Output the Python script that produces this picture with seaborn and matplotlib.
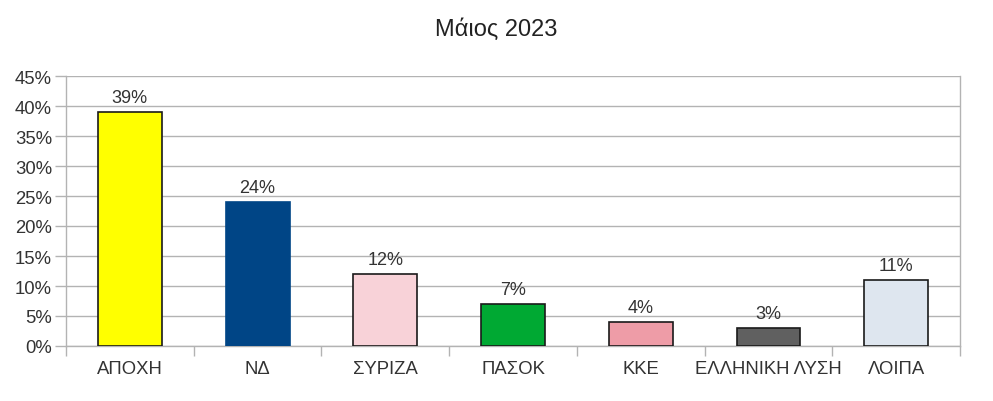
import matplotlib
matplotlib.use("Agg")
import matplotlib.pyplot as plt
import seaborn as sns
import pandas as pd
from matplotlib.ticker import FixedLocator, PercentFormatter

categories = ["ΑΠΟΧΗ", "ΝΔ", "ΣΥΡΙΖΑ", "ΠΑΣΟΚ", "ΚΚΕ", "ΕΛΛΗΝΙΚΗ ΛΥΣΗ", "ΛΟΙΠΑ"]
values = [39, 24, 12, 7, 4, 3, 11]
colors = ["#ffff00", "#004586", "#f8d2d8", "#00a933", "#ee9ca7", "#606060", "#dee6ef"]
edges = ["#1a1a1a", "#004586", "#1a1a1a", "#1a1a1a", "#1a1a1a", "#1a1a1a", "#1a1a1a"]
title = "Μάιος 2023"

sns.set_theme(style="white")
plt.rcParams['font.family'] = ['Liberation Sans', 'DejaVu Sans']

df = pd.DataFrame({"cat": categories, "val": values})
fig = plt.figure(figsize=(9.93, 4.02), dpi=100)
ax = fig.add_axes([66/993, 1-347/402, (960-66)/993, (347-77)/402])

sns.barplot(data=df, x="cat", y="val", hue="cat", palette=colors, legend=False,
            width=0.5, ax=ax, saturation=1)
for p, ec in zip(ax.patches, edges):
    p.set_edgecolor(ec)
    p.set_linewidth(1.2)
    p.set_zorder(3)

ax.set_ylim(0, 45)
ax.set_xlim(-0.5, len(categories) - 0.5)
ax.yaxis.set_major_locator(FixedLocator(range(0, 46, 5)))
ax.yaxis.set_major_formatter(PercentFormatter(decimals=0))
ax.grid(axis="y", color="#b3b3b3", linewidth=1, zorder=0)
ax.set_axisbelow(True)
ax.spines["top"].set_visible(False)
for s in ["left", "right", "bottom"]:
    ax.spines[s].set_color("#b3b3b3")
    ax.spines[s].set_linewidth(1)
ax.set_xlabel("")
ax.set_ylabel("")
ax.tick_params(axis="y", which="major", length=8, color="#b3b3b3", width=1,
               labelsize=13.3, labelcolor="#333333", left=True, pad=2)
ax.tick_params(axis="x", which="major", length=0, labelsize=13.3, labelcolor="#333333", pad=10)
ax.set_xticks(range(len(categories)))
ax.set_xticklabels(categories)
ax.xaxis.set_minor_locator(FixedLocator([i + 0.5 for i in range(-1, len(categories))]))
ax.tick_params(axis="x", which="minor", length=7, color="#b3b3b3", width=1, bottom=True)

for i, v in enumerate(values):
    ax.annotate(f"{v}%", (i, v), xytext=(0, 4), textcoords="offset points",
                ha="center", va="bottom", fontsize=13, color="#333333")

fig.text(0.5, 1 - 30/402, title, ha="center", va="center", fontsize=17, color="#222222")
fig.savefig("out.png", dpi=100, facecolor="white")
